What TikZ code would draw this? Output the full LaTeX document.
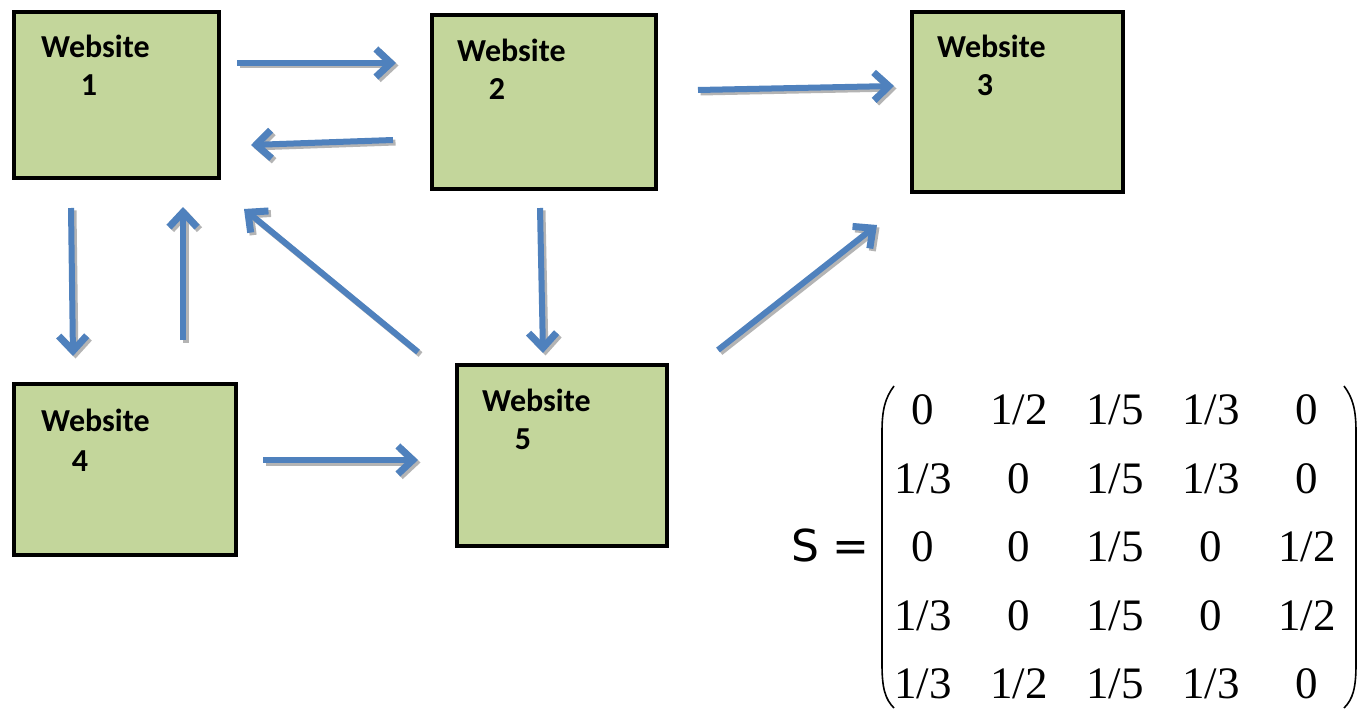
\documentclass[tikz,border=0pt]{standalone}
\usepackage{fontspec}
\setmainfont{Liberation Serif}
\newfontfamily\boxfont{Carlito}
\newfontfamily\labelfont{DejaVu Sans}
\usetikzlibrary{arrows.meta}
\definecolor{boxgreen}{HTML}{C3D69B}
\definecolor{linkblue}{HTML}{4F81BD}
\definecolor{shadowgray}{HTML}{B4B4B4}

\begin{document}
\begin{tikzpicture}[x=1pt,y=-1pt,
  site/.style={draw=black, line width=4pt, fill=boxgreen, rectangle, inner sep=0pt},
  sitetext/.style={font=\boxfont\bfseries\fontsize{32}{32}\selectfont, inner sep=0pt},
  tip/.style={-{Straight Barb[length=15pt,width=28pt,line width=7pt]}},
  link/.style={draw=linkblue, line width=6pt, tip},
  linkshadow/.style={draw=shadowgray, line width=6pt, tip},
  entry/.style={font=\fontsize{45}{45}\selectfont, inner sep=0pt},
  paren/.style={draw=black, line width=1.6pt}
]
\useasboundingbox[fill=white] (0,0) rectangle (1366,709);

% website boxes
\node[site, minimum width=205pt, minimum height=166pt] (b1) at (116.5,95) {};
\node[site, minimum width=224pt, minimum height=174pt] (b2) at (544,102) {};
\node[site, minimum width=211pt, minimum height=180pt] (b3) at (1017.5,102) {};
\node[site, minimum width=222pt, minimum height=171pt] (b4) at (125,469.5) {};
\node[site, minimum width=210pt, minimum height=181pt] (b5) at (562,455.5) {};

% box captions
\node[sitetext, anchor=west] (t1) at (41,46) {Website};
\node[sitetext] (n1) at (89,85) {1};
\node[sitetext, anchor=west] (t2) at (457,50) {Website};
\node[sitetext] (n2) at (497,89) {2};
\node[sitetext, anchor=west] (t3) at (937,46) {Website};
\node[sitetext] (n3) at (985,85) {3};
\node[sitetext, anchor=west] (t4) at (41,420) {Website};
\node[sitetext] (n4) at (80,461) {4};
\node[sitetext, anchor=west] (t5) at (482,400) {Website};
\node[sitetext] (n5) at (523,439) {5};

% link end points
\coordinate (a12s) at (237,63);  \coordinate (a12e) at (396,63);
\coordinate (a21s) at (393,140); \coordinate (a21e) at (251,145);
\coordinate (a23s) at (698,90);  \coordinate (a23e) at (894,86);
\coordinate (a14s) at (71,208);  \coordinate (a14e) at (73,356);
\coordinate (a41s) at (183,340); \coordinate (a41e) at (183,207);
\coordinate (a51s) at (418,352); \coordinate (a51e) at (244,209);
\coordinate (a25s) at (540,208); \coordinate (a25e) at (543,353);
\coordinate (a53s) at (718,350); \coordinate (a53e) at (877,225);
\coordinate (a45s) at (263,460); \coordinate (a45e) at (418,460);

% links with a soft drop shadow
\foreach \s/\e in {a12s/a12e,a21s/a21e,a23s/a23e,a14s/a14e,a41s/a41e,
                   a51s/a51e,a25s/a25e,a53s/a53e,a45s/a45e}{
  \draw[linkshadow] ([shift={(2.5pt,-2.5pt)}]\s) -- ([shift={(2.5pt,-2.5pt)}]\e);
  \draw[link] (\s) -- (\e);
}

% link matrix
\node[font=\labelfont\fontsize{44}{44}\selectfont, anchor=east, inner sep=0pt] (slabel) at (870,545) {S =};
\foreach \row [count=\r] in {{0,1/2,1/5,1/3,0},{1/3,0,1/5,1/3,0},{0,0,1/5,0,1/2},
                             {1/3,0,1/5,0,1/2},{1/3,1/2,1/5,1/3,0}}{
  \foreach \val [count=\c] in \row {
    \node[entry] (m-\r-\c) at ({923+(\c-1)*96},{410+(\r-1)*68.5}) {\val};
  }
}
\draw[paren] (894,386) .. controls (885,398) and (882,410) .. (882,432)
  -- (882,664) .. controls (882,688) and (885,699) .. (894,708);
\draw[paren] (1344,386) .. controls (1353,398) and (1356,410) .. (1356,432)
  -- (1356,664) .. controls (1356,688) and (1353,699) .. (1344,708);
\end{tikzpicture}
\end{document}
